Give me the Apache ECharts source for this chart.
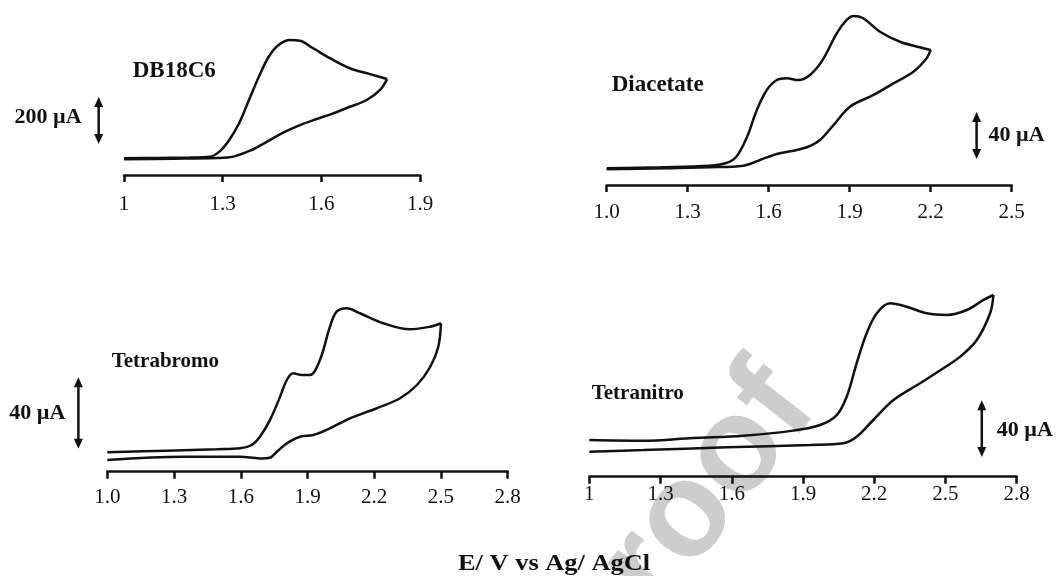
<!DOCTYPE html>
<html>
<head>
<meta charset="utf-8">
<title>Cyclic voltammograms</title>
<script src="https://cdn.jsdelivr.net/npm/echarts@6/dist/echarts.min.js"></script>
<style>
  html, body { margin: 0; padding: 0; background: #fff; }
  #chart { width: 1056px; height: 576px; }
</style>
</head>
<body>
<div id="chart"></div>
<script>
// Potentials in V vs Ag/AgCl, currents in µA (relative to the starting baseline).

// DB18C6
const db18c6Forward = [[1.00,-1],[1.10,0],[1.20,2],[1.26,5],[1.29,27],[1.32,77],[1.35,148],[1.38,247],[1.41,346],[1.44,431],[1.47,481],[1.505,502],[1.535,499],[1.575,467],[1.626,425],[1.687,382],[1.748,357],[1.80,336]];
const db18c6Reverse = [[1.80,336],[1.778,289],[1.738,247],[1.687,218],[1.636,190],[1.586,166],[1.535,140],[1.484,108],[1.434,69],[1.383,31],[1.332,6],[1.281,0],[1.15,-3],[1.00,-5]];

// Diacetate
const diacetateForward = [[1.00,0],[1.20,0.9],[1.38,2.2],[1.44,4.3],[1.48,9.9],[1.52,26.9],[1.556,49.6],[1.593,66.6],[1.63,75.1],[1.667,76.6],[1.71,75.1],[1.753,79.4],[1.80,92.2],[1.852,114.9],[1.889,126.2],[1.914,129.6],[1.95,127.7],[2.012,116.2],[2.086,107.7],[2.16,103.0],[2.20,100.7]];
const diacetateReverse = [[2.20,100.7],[2.185,93.6],[2.136,82.2],[2.062,72.3],[1.988,62.4],[1.901,52.4],[1.84,36.8],[1.79,24.1],[1.741,17.9],[1.691,15.0],[1.63,12.2],[1.568,7.1],[1.506,2.2],[1.383,0.9],[1.00,-0.9]];

// Tetrabromo
const tetrabromoForward = [[1.00,0],[1.267,0.9],[1.492,1.7],[1.597,2.2],[1.649,4.1],[1.686,8.7],[1.731,18.0],[1.777,31.1],[1.807,40.4],[1.836,44.1],[1.874,43.2],[1.911,43.2],[1.956,51.6],[2.001,70.2],[2.031,78.6],[2.076,80.5],[2.136,77.7],[2.241,72.1],[2.361,68.7],[2.452,70.2],[2.50,72.1]];
const tetrabromoReverse = [[2.50,72.1],[2.488,59.0],[2.452,47.8],[2.392,37.6],[2.316,30.2],[2.211,24.6],[2.091,19.0],[1.986,12.5],[1.926,9.7],[1.866,8.7],[1.807,5.0],[1.762,0.3],[1.731,-3.0],[1.686,-3.4],[1.597,-2.5],[1.342,-2.5],[1.00,-4.3]];

// Tetranitro
const tetranitroForward = [[1.00,0],[1.227,-0.5],[1.438,1.4],[1.649,3.0],[1.859,6.6],[1.972,10.6],[2.042,17.6],[2.084,30.5],[2.126,54.1],[2.168,75.3],[2.211,89.4],[2.267,96.4],[2.337,94.0],[2.421,89.4],[2.506,88.2],[2.59,91.7],[2.66,98.8],[2.702,102.3]];
const tetranitroReverse = [[2.702,102.3],[2.688,89.4],[2.632,70.6],[2.562,58.8],[2.491,50.6],[2.393,40.0],[2.281,28.2],[2.196,14.1],[2.126,2.3],[2.07,-2.3],[1.93,-3.5],[1.579,-5.2],[1.227,-7.1],[1.00,-8.3]];

// Scale bars: [potential, lower current, upper current]
const scaleBarDB18C6 = [0.923, 60, 260];
const scaleBarDiacetate = [2.370, 8, 48];
const scaleBarTetrabromo = [0.870, 2, 42];
const scaleBarTetranitro = [2.653, -12, 28];
const scaleBarLabels = ['200 µA', '40 µA', '40 µA', '40 µA'];

// Compound names
const compoundNames = ['DB18C6', 'Diacetate', 'Tetrabromo', 'Tetranitro'];

// Potential axis tick labels
const ticksDB18C6 = ['1', '1.3', '1.6', '1.9'];
const ticksDiacetate = ['1.0', '1.3', '1.6', '1.9', '2.2', '2.5'];
const ticksTetrabromo = ['1.0', '1.3', '1.6', '1.9', '2.2', '2.5', '2.8'];
const ticksTetranitro = ['1', '1.3', '1.6', '1.9', '2.2', '2.5', '2.8'];

const axisCaption = 'E/ V vs Ag/ AgCl';

const SERIF = '"Liberation Serif", "Times New Roman", serif';
const INK = '#111';

// Layout of the four panels
const panels = [
  { forward: db18c6Forward, reverse: db18c6Reverse, bar: scaleBarDB18C6, ticks: ticksDB18C6,
    grid: { left: 124, top: 20, width: 296, height: 155 }, xMax: 1.9, y: [-72.3, 587.3], labelMargin: 19,
    barLabel: { side: 'left', dx: -17, dy: -3 } },
  { forward: diacetateForward, reverse: diacetateReverse, bar: scaleBarDiacetate, ticks: ticksDiacetate,
    grid: { left: 606.7, top: 10, width: 405, height: 175 }, xMax: 2.5, y: [-14.2, 134.7], labelMargin: 17,
    barLabel: { side: 'right', dx: 12, dy: 0 } },
  { forward: tetrabromoForward, reverse: tetrabromoReverse, bar: scaleBarTetrabromo, ticks: ticksTetrabromo,
    grid: { left: 107.3, top: 290, width: 400.4, height: 181.7 }, xMax: 2.8, y: [-10.84, 90.68], labelMargin: 15,
    barLabel: { side: 'left', dx: -13, dy: 0 } },
  { forward: tetranitroForward, reverse: tetranitroReverse, bar: scaleBarTetranitro, ticks: ticksTetranitro,
    grid: { left: 589.3, top: 285, width: 427.4, height: 191.7 }, xMax: 2.8, y: [-25.9, 109.35], labelMargin: 7,
    barLabel: { side: 'right', dx: 15, dy: 2 } }
];

const grids = [], xAxes = [], yAxes = [], series = [];

panels.forEach((p, i) => {
  grids.push(Object.assign({ containLabel: false }, p.grid));
  xAxes.push({
    type: 'value', gridIndex: i, min: 1.0, max: p.xMax, interval: 0.3,
    axisLine: { show: true, onZero: false, lineStyle: { color: INK, width: 2.5 } },
    axisTick: { show: true, length: 7, lineStyle: { color: INK, width: 2.5 } },
    splitLine: { show: false },
    axisLabel: {
      margin: p.labelMargin, color: INK, fontFamily: SERIF, fontSize: 21,
      showMinLabel: true, showMaxLabel: true,
      formatter: v => p.ticks[Math.round((v - 1.0) / 0.3)] || ''
    }
  });
  yAxes.push({ type: 'value', gridIndex: i, min: p.y[0], max: p.y[1], show: false });

  [p.forward, p.reverse].forEach(sweep => {
    series.push({
      type: 'line', xAxisIndex: i, yAxisIndex: i, data: sweep,
      showSymbol: false, smooth: 0.35, clip: false, silent: true,
      lineStyle: { color: INK, width: 2.5 }
    });
  });

  const lab = p.barLabel;
  const text = scaleBarLabels[i];
  series.push({
    type: 'custom', xAxisIndex: i, yAxisIndex: i, silent: true, clip: false,
    data: [p.bar],
    renderItem: (params, api) => {
      const hi = api.coord([api.value(0), api.value(2)]);
      const lo = api.coord([api.value(0), api.value(1)]);
      const hw = 4.5, hh = 10;
      return {
        type: 'group',
        children: [
          { type: 'line', shape: { x1: hi[0], y1: hi[1] + hh - 1, x2: lo[0], y2: lo[1] - hh + 1 },
            style: { stroke: INK, lineWidth: 2.5 } },
          { type: 'polygon', shape: { points: [[hi[0], hi[1]], [hi[0] - hw, hi[1] + hh], [hi[0] + hw, hi[1] + hh]] },
            style: { fill: INK } },
          { type: 'polygon', shape: { points: [[lo[0], lo[1]], [lo[0] - hw, lo[1] - hh], [lo[0] + hw, lo[1] - hh]] },
            style: { fill: INK } },
          { type: 'text', x: hi[0] + lab.dx, y: (hi[1] + lo[1]) / 2 + lab.dy,
            style: { text: text, fill: INK, font: 'bold 22px ' + SERIF,
                     align: lab.side === 'left' ? 'right' : 'left', verticalAlign: 'middle' } }
        ]
      };
    }
  });
});

// Free text: compound names, potential caption, watermark
const namePos = [[132.7, 71.5, 23], [611.7, 85, 23], [111.7, 361.5, 21], [591.7, 393.5, 21]];
const graphic = compoundNames.map((name, i) => ({
  type: 'text', x: namePos[i][0], y: namePos[i][1], z: 10,
  style: { text: name, fill: INK, font: 'bold ' + namePos[i][2] + 'px ' + SERIF, align: 'left', verticalAlign: 'middle' }
}));
graphic.push({
  type: 'text', x: 458, y: 564, scaleX: 1.1, z: 10,
  style: { text: axisCaption, fill: INK, font: 'bold 24px ' + SERIF, align: 'left', verticalAlign: 'middle' }
});
graphic.push({
  type: 'text', x: 790, y: 385, rotation: 52 * Math.PI / 180, z: -10,
  style: { text: 'Journal Pre-proof', fill: '#cdcdcd', font: 'bold 135px "Liberation Sans", Arial, sans-serif',
           align: 'right', verticalAlign: 'middle' }
});

const chart = echarts.init(document.getElementById('chart'), null, { renderer: 'canvas' });
chart.setOption({
  animation: false,
  backgroundColor: '#fff',
  grid: grids,
  xAxis: xAxes,
  yAxis: yAxes,
  series: series,
  graphic: graphic
});
</script>
</body>
</html>
